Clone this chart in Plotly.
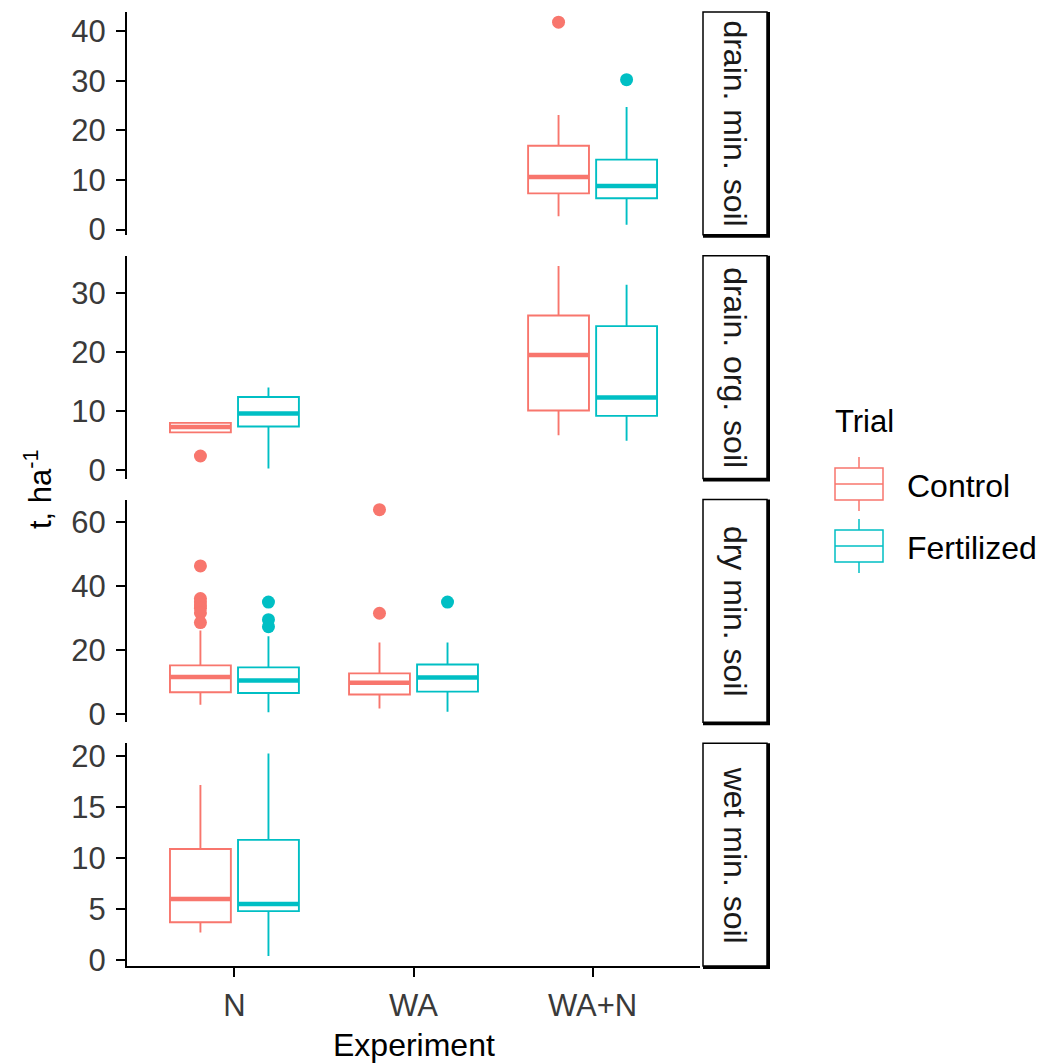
import plotly.graph_objects as go

# ---------------------------------------------------------------- data
experiments = ["N", "WA", "WA+N"]
soils = ["drain. min. soil", "drain. org. soil", "dry min. soil", "wet min. soil"]
trials = ["Control", "Fertilized"]
trial_colors = ["#F8766D", "#00BFC4"]

# one entry per (soil, experiment) combination that has boxes
box_soil = ["drain. min. soil", "drain. org. soil", "drain. org. soil",
            "dry min. soil", "dry min. soil", "wet min. soil"]
box_exp = ["WA+N", "N", "WA+N", "N", "WA", "N"]

control_lower = [2.7, 6.4, 5.9, 2.8, 1.6, 2.7]
control_q1 = [7.3, 6.4, 10.1, 6.7, 6.0, 3.7]
control_median = [10.6, 7.3, 19.5, 11.5, 9.7, 6.0]
control_q3 = [16.9, 8.0, 26.2, 15.1, 12.6, 10.9]
control_upper = [23.1, 8.0, 34.6, 26.0, 22.3, 17.2]
control_outliers = [[41.8], [2.4], [], [46.2, 36.0, 35.0, 34.0, 33.0, 31.5, 28.5],
                    [63.8, 31.4], []]

fert_lower = [1.0, 0.3, 5.0, 0.5, 0.6, 0.4]
fert_q1 = [6.3, 7.4, 9.2, 6.5, 6.9, 4.8]
fert_median = [8.8, 9.6, 12.3, 10.4, 11.3, 5.5]
fert_q3 = [14.1, 12.4, 24.4, 14.5, 15.4, 11.8]
fert_upper = [24.7, 14.0, 31.4, 24.2, 22.3, 20.3]
fert_outliers = [[30.2], [], [], [34.9, 29.4, 27.2], [34.9], []]

ticks_drain_min = [0, 10, 20, 30, 40]
ticks_drain_org = [0, 10, 20, 30]
ticks_dry_min = [0, 20, 40, 60]
ticks_wet_min = [0, 5, 10, 15, 20]
row_ticks = [ticks_drain_min, ticks_drain_org, ticks_dry_min, ticks_wet_min]

y_title = "t, ha<sup>-1</sup>"
x_title = "Experiment"
legend_title = "Trial"

# ---------------------------------------------------------------- geometry
W, H = 1046, 1064
PANEL_LEFT, PANEL_RIGHT = 127, 700
PANEL_TOP, PANEL_BOTTOM = 12, 966
PANEL_GAP = 21
STRIP_LEFT, STRIP_RIGHT = 703, 767
DODGE = 0.19
BOX_W = 0.34
FONT = "Liberation Sans, Arial, sans-serif"


def px_x(x):
    return x / W


def px_y(y):
    return 1 - y / H


n_rows = len(soils)
panel_h = (PANEL_BOTTOM - PANEL_TOP - PANEL_GAP * (n_rows - 1)) / n_rows
panels = []
for i in range(n_rows):
    top = PANEL_TOP + i * (panel_h + PANEL_GAP)
    panels.append((top, top + panel_h))

stats = [
    (control_lower, control_q1, control_median, control_q3, control_upper, control_outliers),
    (fert_lower, fert_q1, fert_median, fert_q3, fert_upper, fert_outliers),
]

fig = go.Figure()

# y range of each facet row: data extent with 5 % padding
row_min = [None] * n_rows
row_max = [None] * n_rows

for t, (lo, q1, med, q3, hi, outl) in enumerate(stats):
    color = trial_colors[t]
    offset = -DODGE if t == 0 else DODGE
    for k in range(len(box_soil)):
        r = soils.index(box_soil[k])
        xa = "x" if r == 0 else f"x{r + 1}"
        ya = "y" if r == 0 else f"y{r + 1}"
        pos = experiments.index(box_exp[k]) + offset
        vals = [lo[k], hi[k]] + outl[k]
        row_min[r] = min(vals) if row_min[r] is None else min(row_min[r], min(vals))
        row_max[r] = max(vals) if row_max[r] is None else max(row_max[r], max(vals))

        fig.add_trace(go.Box(
            x=[pos], q1=[q1[k]], median=[med[k]], q3=[q3[k]],
            lowerfence=[lo[k]], upperfence=[hi[k]],
            width=BOX_W, whiskerwidth=0, boxpoints=False,
            line=dict(color=color, width=1.9), fillcolor="white",
            xaxis=xa, yaxis=ya, showlegend=False, name=trials[t],
        ))
        # thicker median bar
        fig.add_trace(go.Scatter(
            x=[pos - BOX_W / 2, pos + BOX_W / 2], y=[med[k], med[k]],
            mode="lines", line=dict(color=color, width=4.5),
            xaxis=xa, yaxis=ya, showlegend=False, hoverinfo="skip",
        ))
        if outl[k]:
            fig.add_trace(go.Scatter(
                x=[pos] * len(outl[k]), y=outl[k], mode="markers",
                marker=dict(color=color, size=13, line=dict(width=0)),
                xaxis=xa, yaxis=ya, showlegend=False, name=trials[t],
            ))

layout = dict(
    template="none",
    width=W, height=H,
    margin=dict(l=0, r=0, t=0, b=0, pad=0, autoexpand=False),
    paper_bgcolor="white", plot_bgcolor="white",
    font=dict(family=FONT, color="black"),
    showlegend=False,
)

x_range = [-0.6, len(experiments) - 0.4]
for i in range(n_rows):
    top, bottom = panels[i]
    xname = "xaxis" if i == 0 else f"xaxis{i + 1}"
    yname = "yaxis" if i == 0 else f"yaxis{i + 1}"
    anchor_x = "x" if i == 0 else f"x{i + 1}"
    anchor_y = "y" if i == 0 else f"y{i + 1}"
    last = i == n_rows - 1
    layout[xname] = dict(
        domain=[px_x(PANEL_LEFT), px_x(PANEL_RIGHT)], range=x_range,
        anchor=anchor_y, showgrid=False, zeroline=False, automargin=False,
        visible=last,
        tickvals=list(range(len(experiments))), ticktext=experiments,
        showline=True, linecolor="black", linewidth=2,
        ticks="outside", ticklen=9, tickwidth=2, tickcolor="black",
        tickfont=dict(size=31, color="#3A3A3A"), ticklabelstandoff=2,
    )
    span = row_max[i] - row_min[i]
    layout[yname] = dict(
        domain=[px_y(bottom), px_y(top)],
        range=[row_min[i] - 0.05 * span, row_max[i] + 0.05 * span],
        anchor=anchor_x, showgrid=False, zeroline=False, automargin=False,
        tickvals=row_ticks[i],
        showline=True, linecolor="black", linewidth=2,
        ticks="outside", ticklen=9, tickwidth=2, tickcolor="black",
        tickfont=dict(size=31, color="#3A3A3A"), ticklabelstandoff=4,
    )

shapes = []
annotations = []

# facet strips on the right
for i, soil in enumerate(soils):
    top, bottom = panels[i]
    shapes.append(dict(type="rect", xref="paper", yref="paper",
                       x0=px_x(STRIP_LEFT), x1=px_x(STRIP_RIGHT + 3),
                       y0=px_y(bottom + 3), y1=px_y(top),
                       fillcolor="black", line=dict(width=0), layer="above"))
    shapes.append(dict(type="rect", xref="paper", yref="paper",
                       x0=px_x(STRIP_LEFT), x1=px_x(STRIP_RIGHT),
                       y0=px_y(bottom), y1=px_y(top),
                       fillcolor="white", line=dict(color="black", width=1.5),
                       layer="above"))
    annotations.append(dict(text=soil, xref="paper", yref="paper",
                            x=px_x((STRIP_LEFT + STRIP_RIGHT) / 2),
                            y=px_y((top + bottom) / 2),
                            textangle=90, showarrow=False,
                            xanchor="center", yanchor="middle",
                            font=dict(size=32, color="#1A1A1A")))

# axis titles
annotations.append(dict(text=x_title, xref="paper", yref="paper",
                        x=px_x((PANEL_LEFT + PANEL_RIGHT) / 2), y=px_y(1045),
                        showarrow=False, xanchor="center", yanchor="middle",
                        font=dict(size=32, color="black")))
annotations.append(dict(text=y_title, xref="paper", yref="paper",
                        x=px_x(38), y=px_y((PANEL_TOP + PANEL_BOTTOM) / 2),
                        textangle=-90, showarrow=False,
                        xanchor="center", yanchor="middle",
                        font=dict(size=31, color="black")))

# legend: title, box-shaped keys and labels
LEG_X0, LEG_X1 = 835, 883
LEG_MID = (LEG_X0 + LEG_X1) / 2
annotations.append(dict(text=legend_title, xref="paper", yref="paper",
                        x=px_x(LEG_X0 - 2), y=px_y(421), showarrow=False,
                        xanchor="left", yanchor="middle",
                        font=dict(size=31, color="black")))
key_centers = [484, 546]
for t, trial in enumerate(trials):
    cy = key_centers[t]
    col = trial_colors[t]
    shapes.append(dict(type="line", xref="paper", yref="paper",
                       x0=px_x(LEG_MID), x1=px_x(LEG_MID),
                       y0=px_y(cy - 27), y1=px_y(cy + 27),
                       line=dict(color=col, width=1.5)))
    shapes.append(dict(type="rect", xref="paper", yref="paper",
                       x0=px_x(LEG_X0), x1=px_x(LEG_X1),
                       y0=px_y(cy + 16), y1=px_y(cy - 16),
                       fillcolor="white", line=dict(color=col, width=1.5)))
    shapes.append(dict(type="line", xref="paper", yref="paper",
                       x0=px_x(LEG_X0), x1=px_x(LEG_X1),
                       y0=px_y(cy), y1=px_y(cy),
                       line=dict(color=col, width=1.5)))
    annotations.append(dict(text=trial, xref="paper", yref="paper",
                            x=px_x(905), y=px_y(cy + 2), showarrow=False,
                            xanchor="left", yanchor="middle",
                            font=dict(size=32, color="black")))

layout["shapes"] = shapes
layout["annotations"] = annotations
fig.update_layout(**layout)

fig.write_html("out.html")
